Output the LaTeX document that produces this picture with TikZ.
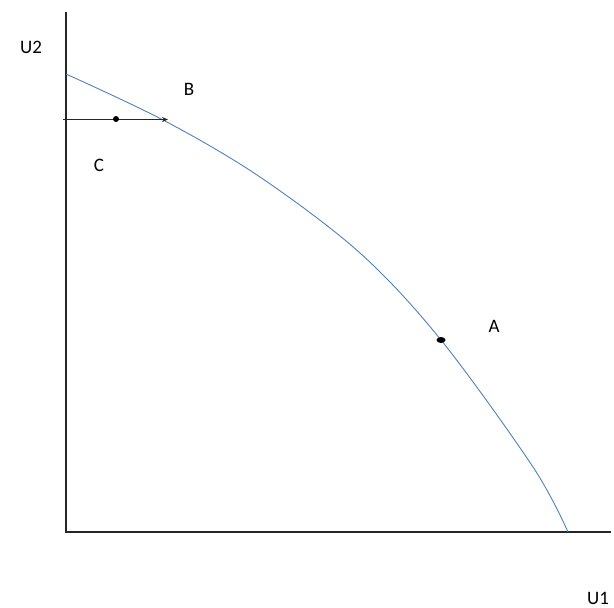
\documentclass[tikz,border=0pt]{standalone}
\usepackage{fontspec}
\setmainfont{Carlito}
\usetikzlibrary{arrows.meta,shapes.geometric}
\definecolor{curveblue}{HTML}{4F81BD}
\definecolor{axisgray}{HTML}{262626}
\begin{document}
\begin{tikzpicture}[x=1pt,y=-1pt,
  axis/.style={draw=axisgray,line width=1.5pt},
  frontier/.style={draw=curveblue,line width=0.9pt},
  lbl/.style={font=\fontsize{19}{22}\selectfont,text=black,inner sep=0pt},
  dotmark/.style={circle,fill=black,inner sep=0pt,minimum size=6pt}]
\useasboundingbox (0,0) rectangle (614,608);
% axes
\coordinate (ytop) at (66,12);
\coordinate (orig) at (66,532);
\coordinate (xend) at (611,532);
\draw[axis] (ytop) -- (orig) -- (xend);
% frontier
\draw[frontier] plot[smooth,tension=0.55] coordinates {(66,74) (165,121) (260,177) (360,253) (441,340) (533,467) (568,532)};
% horizontal arrow
\coordinate (hstart) at (63,119.5);
\coordinate (hend) at (168,119.5);
\draw[axis,line width=1.4pt,-{Stealth[length=6pt,width=5pt]}] (hstart) -- (hend);
\node[dotmark] (cdot) at (116,119) {};
\node[ellipse,fill=black,inner sep=0pt,minimum width=9pt,minimum height=6pt] (adot) at (441,340) {};
% labels
\node[lbl] (u2) at (31,47) {U2};
\node[lbl] (b) at (189,89) {B};
\node[lbl] (c) at (99,165) {C};
\node[lbl] (a) at (494,326) {A};
\node[lbl,anchor=west] (u1) at (587,598) {U1};
\end{tikzpicture}
\end{document}
